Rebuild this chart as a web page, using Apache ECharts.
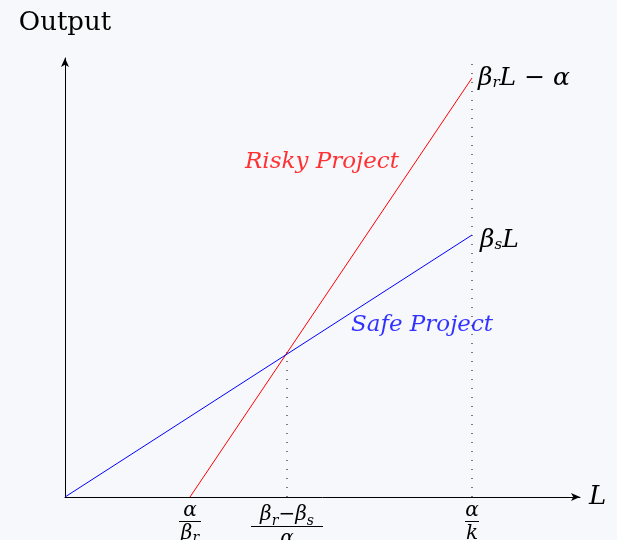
<!DOCTYPE html>
<html>
<head>
<meta charset="utf-8">
<script src="https://cdn.jsdelivr.net/npm/echarts@6/dist/echarts.min.js"></script>
<style>
html,body{margin:0;padding:0;background:#f7f8fc;}
#c{width:617px;height:540px;}
</style>
</head>
<body>
<div id="c"></div>
<script>
// Data (L on x, Output on y), in arbitrary units
const riskyL = [1.0, 3.256];
const riskyOut = [0, 3.352];
const safeL = [0, 3.256];
const safeOut = [0, 2.096];
const crossL = 1.776;
const crossOut = 1.16;
const capL = 3.256;
const capTop = 3.48;
const tickValues = [1.0, 1.776, 3.256];
const tickLabels = ['{n|α}\n{bar1| }\n{d|β}{s|r}', '{m|β}{ms|r}{m|−β}{ms|s}\n{bar2| }\n{d2|α}', '{n|α}\n{bar3| }\n{d|k}'];
const projectLabels = ['Risky Project', 'Safe Project'];
const projectPos = [[2.056, 2.68], [2.856, 1.376]];
const xMax = 4.12, yMax = 3.512;

const FONT = 'DejaVu Serif';
const chart = echarts.init(document.getElementById('c'), null, {renderer: 'canvas'});
const ital = (size, extra) => Object.assign({fontFamily: FONT, fontStyle: 'italic', fontSize: size, color: '#000'}, extra || {});
const sub = ital(15, {verticalAlign: 'bottom', lineHeight: 17});
chart.setOption({
  backgroundColor: '#f7f8fc',
  animation: false,
  grid: {left: 65, top: 58, width: 515, height: 439, containLabel: false, outerBoundsMode: 'none'},
  xAxis: {
    type: 'value', min: 0, max: xMax,
    name: 'L', nameLocation: 'end', nameGap: 9,
    nameTextStyle: {fontFamily: FONT, fontStyle: 'italic', fontSize: 26, color: '#000', verticalAlign: 'middle', padding: [0,0,2,0]},
    axisLine: {show: true, symbol: ['none', 'arrow'], symbolSize: [6, 9], lineStyle: {color: '#000', width: 1}},
    axisTick: {show: false},
    splitLine: {show: false},
    axisLabel: {
      show: true, customValues: tickValues, margin: 4, hideOverlap: false,
      formatter: function (v) { const i = tickValues.indexOf(v); return i >= 0 ? tickLabels[i] : ''; },
      rich: {
        n: ital(20, {lineHeight: 19}),
        d: ital(20, {lineHeight: 22}),
        d2: ital(20, {lineHeight: 22}),
        s: ital(14, {verticalAlign: 'bottom', lineHeight: 14}),
        m: ital(20, {lineHeight: 24, verticalAlign: 'bottom'}),
        ms: ital(14, {verticalAlign: 'bottom', lineHeight: 14, padding: [0, 0, -3, 0]}),
        bar1: {width: 22, height: 1, backgroundColor: '#000', lineHeight: 3},
        bar2: {width: 72, height: 1, backgroundColor: '#000', lineHeight: 3},
        bar3: {width: 14, height: 1, backgroundColor: '#000', lineHeight: 3}
      }
    }
  },
  yAxis: {
    type: 'value', min: 0, max: yMax,
    name: 'Output', nameLocation: 'end', nameGap: 22,
    nameTextStyle: {fontFamily: FONT, fontSize: 26, color: '#000', align: 'center'},
    axisLine: {show: true, symbol: ['none', 'arrow'], symbolSize: [6, 9], lineStyle: {color: '#000', width: 1}},
    axisTick: {show: false}, axisLabel: {show: false}, splitLine: {show: false}
  },
  series: [
    {type: 'line', data: [[capL, 0], [capL, capTop]], symbol: 'none', silent: true,
     lineStyle: {color: '#000', width: 1, type: [1, 8]}},
    {type: 'line', data: [[crossL, 0], [crossL, crossOut]], symbol: 'none', silent: true,
     lineStyle: {color: '#000', width: 1, type: [1, 8]}},
    {type: 'line', symbol: 'none', lineStyle: {color: '#ff0000', width: 1},
     data: riskyL.map((l, i) => [l, riskyOut[i]]),
     endLabel: {show: true, distance: 6, offset: [0, 0], formatter: '{b|β}{s|r}{b|L − α}', rich: {b: ital(25), s: sub}}},
    {type: 'line', symbol: 'none', lineStyle: {color: '#0000ff', width: 1},
     data: safeL.map((l, i) => [l, safeOut[i]]),
     endLabel: {show: true, distance: 8, offset: [0, 5], formatter: '{b|β}{s|s}{b|L}', rich: {b: ital(25), s: sub}}},
    {type: 'scatter', symbolSize: 0, silent: true,
     data: projectPos.map((p, i) => ({value: p, label: {show: true, position: 'inside', formatter: projectLabels[i],
       fontFamily: FONT, fontStyle: 'italic', fontSize: 23, color: i === 0 ? '#ff0000' : '#0000ff'}}))}
  ]
});
</script>
</body>
</html>
